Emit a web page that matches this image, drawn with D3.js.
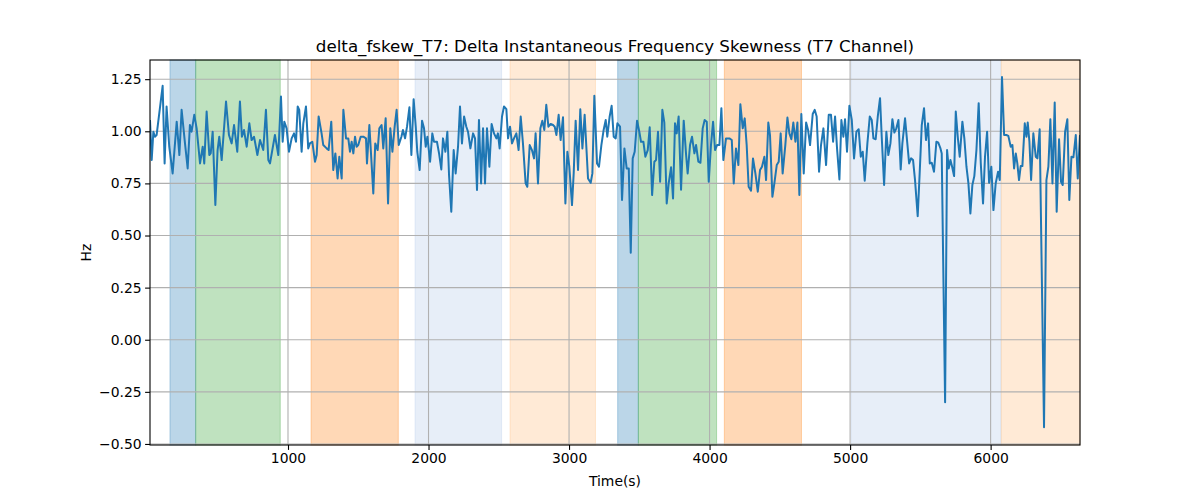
<!DOCTYPE html>
<html><head><meta charset="utf-8">
<script src="https://cdn.jsdelivr.net/npm/d3@7"></script>
<style>body{margin:0;background:#fff}svg{display:block}text{font-family:"DejaVu Sans",sans-serif}</style>
</head><body><svg id="c" width="1200" height="500"></svg>
<script>
const times = [18,30,42,53,65,108,122,136,155,179,208,227,243,267,286,302,314,333,350,374,393,404,421,440,450,464,483,499,511,528,559,580,599,616,639,658,672,687,706,725,741,758,765,782,801,824,843,860,872,907,931,950,962,974,990,1007,1026,1043,1057,1069,1080,1097,1109,1128,1144,1156,1173,1192,1204,1218,1239,1251,1275,1289,1308,1322,1337,1353,1365,1382,1394,1413,1429,1441,1453,1465,1477,1488,1500,1517,1536,1555,1562,1579,1607,1621,1638,1650,1666,1678,
1695,1712,1728,1743,1759,1773,1788,1807,1818,1833,1847,1864,1878,1894,1909,1920,1937,1954,1968,1980,1992,2011,2027,2039,2060,2075,2091,2103,2120,2134,2146,2162,2179,2193,2210,2224,2238,2253,2269,2281,2298,2317,2331,2345,2359,2374,2388,2402,2416,2433,2449,2466,2483,2494,2506,2523,2537,2554,2566,2580,2594,2608,2625,2641,2656,2672,2691,2703,2720,2736,2751,2762,2779,2796,2810,2824,2838,2853,2869,2886,2898,2910,2926,2940,2957,2974,2988,3002,3021,3033,3047,3064,3080,3095,3111,3135,3154,3166,3180,3199,3213,3230,3246,3261,3272,3289,3303,3318,3332,3344,
3363,3377,3394,3410,3425,3439,3453,3467,3484,3500,3512,3529,3543,3560,3574,3591,3607,3619,3633,3648,3664,3678,3695,3709,3726,3740,3754,3766,3780,3797,3816,3833,3844,3861,3875,3892,3904,3920,3935,3951,3965,3980,3994,4010,4025,4039,4053,4070,4084,4098,4117,4141,4158,4172,4188,4205,4219,4236,4250,4264,4278,4295,4309,4326,4343,4359,4373,4390,4402,4418,4430,4447,4461,4478,4492,4506,4520,4539,4554,4568,4582,4596,4611,4625,4639,4653,4670,4687,4701,4715,4734,4748,4762,4779,4793,4810,4829,4848,4864,4879,4893,4907,4924,4938,4952,4964,4978,4995,
5012,5028,5045,5061,5076,5090,5104,5123,5140,5154,5166,5182,5197,5213,5225,5242,5258,5272,5287,5301,5315,5329,5344,5360,5372,5391,5405,5420,5434,5448,5462,5481,5495,5510,5526,5540,5555,5567,5581,5597,5614,5628,5643,5652,5676,5690,5702,5714,5726,5740,5752,5766,5780,5799,5813,5828,5842,5856,5870,5884,5899,5915,5930,5946,5960,5975,5989,6005,6020,6036,6053,6065,6081,6096,6112,6126,6143,6155,6167,6179,6190,6202,6214,6226,6243,6255,6264,6276,6288,6304,6321,6333,6349,6380,6397,6411,6425,6440,6456,6470,6487,6501,6513,6530,6546,6560,6575,6589,6606,6620,6636];
const values = [1.054,0.862,0.998,0.974,0.982,1.218,0.846,1.119,0.926,0.798,1.046,0.886,1.103,0.942,0.822,1.030,0.998,1.079,1.014,0.846,0.926,0.846,1.095,0.886,0.894,0.998,0.646,0.910,0.974,0.862,1.143,0.982,0.942,1.030,0.902,1.143,0.974,1.006,0.926,1.038,0.958,0.974,0.950,0.886,0.958,0.910,1.103,0.862,0.846,0.982,0.886,1.167,0.950,1.046,1.014,0.902,0.966,0.990,0.950,1.119,1.103,0.902,1.038,1.119,0.918,0.942,0.950,0.854,0.886,1.071,0.990,0.934,0.918,0.910,1.046,0.814,0.894,0.774,0.878,0.774,1.103,0.966,0.966,0.902,0.950,0.894,0.974,0.926,0.934,0.974,0.974,0.966,0.846,1.030,0.702,0.942,0.910,1.014,1.030,0.918,
1.062,0.654,1.014,0.902,1.022,1.103,0.934,0.974,1.006,0.966,1.022,1.115,0.886,1.154,1.022,0.902,0.814,1.051,1.014,0.926,0.974,0.854,0.990,0.950,0.950,0.894,0.817,0.966,0.902,0.998,0.790,0.614,0.910,0.798,0.926,1.119,0.942,1.071,1.022,0.998,0.918,0.990,0.966,0.718,1.054,0.750,1.014,0.750,1.014,0.830,1.035,0.990,0.966,0.990,0.918,1.071,1.119,1.106,0.966,1.022,0.942,0.966,0.990,0.910,1.071,0.942,0.750,0.734,0.934,0.910,0.870,0.990,0.750,1.014,1.051,1.006,1.127,1.022,1.035,1.030,1.022,0.982,1.079,0.958,1.067,0.654,0.902,0.830,0.646,0.798,1.051,0.814,1.106,0.918,1.079,0.774,0.753,0.798,1.170,0.846,0.830,0.934,1.006,1.054,0.974,1.071,1.122,0.974,0.966,1.038,
1.022,0.670,0.918,0.822,0.822,0.417,0.870,0.902,1.051,0.998,0.950,0.950,0.878,0.910,1.019,0.694,0.854,0.862,0.998,0.758,1.103,1.042,0.654,0.750,0.827,0.678,1.038,0.990,1.071,0.720,1.051,0.886,0.798,0.934,0.974,0.894,0.934,0.854,0.849,1.014,1.054,1.046,0.758,0.934,1.046,0.910,0.934,0.934,1.111,0.862,0.966,0.966,0.958,0.750,0.918,0.838,1.130,1.014,1.062,0.934,0.734,0.715,0.870,0.798,0.710,0.814,0.830,0.878,0.766,1.042,0.982,0.686,0.750,0.838,0.854,0.990,0.798,0.934,1.066,0.990,0.962,1.042,0.950,1.042,0.694,1.083,0.798,1.042,1.006,0.934,1.083,1.103,1.071,0.806,0.934,1.014,0.838,1.079,1.079,0.950,1.071,0.918,0.769,1.054,0.974,1.058,0.902,1.122,
1.054,0.870,0.998,1.010,0.878,0.902,0.763,0.942,1.071,1.054,0.966,0.962,1.071,1.159,0.974,0.742,0.998,0.886,0.942,1.058,0.994,1.014,1.054,0.817,0.942,1.062,0.958,0.846,0.870,0.862,0.766,0.593,0.798,1.030,1.111,0.958,1.038,0.846,0.849,0.806,0.950,0.945,0.918,0.894,-0.300,0.910,0.822,0.862,0.830,0.785,1.095,0.974,0.878,1.046,0.966,0.830,0.750,0.606,0.742,0.785,0.910,1.135,0.846,0.654,0.878,0.998,0.753,0.830,0.622,0.750,0.806,0.766,1.260,0.982,0.982,0.978,0.926,0.934,0.822,0.894,0.846,0.766,0.833,0.833,1.038,0.974,1.042,0.950,0.766,0.990,0.878,0.870,1.010,-0.420,0.766,0.830,1.058,0.750,1.138,0.614,0.962,0.758,0.742,0.998,1.058,0.670,0.878,0.875,0.982,0.774,0.982];

const bandStarts = [160,343,1164,1904,2580,3346,3493,4105,5008,6076];
const bandEnds   = [343,945,1785,2520,3188,3493,4050,4654,6074,6636];
const bandKinds  = ["blue","green","orange","lightblue","lightorange","blue","green","orange","lightblue","lightorange"];
const kindColors = {blue:"#1f77b4",green:"#2ca02c",orange:"#ff7f0e",lightblue:"#aec7e8",lightorange:"#ffbb78"};
const xTicks = [1000,2000,3000,4000,5000,6000];
const yTicks = [-0.5,-0.25,0,0.25,0.5,0.75,1.0,1.25];
const title = "delta_fskew_T7: Delta Instantaneous Frequency Skewness (T7 Channel)";

const svg = d3.select("#c");
const L=150,R=1080,T=60,B=445;
const x = d3.scaleLinear().domain([18,6636]).range([L,R]);
const y = d3.scaleLinear().domain([-0.505,1.342]).range([B,T]);

const bands = bandStarts.map((s,i)=>({s,e:bandEnds[i],k:bandKinds[i]}));
svg.append("g").selectAll("rect").data(bands).join("rect")
  .attr("x",d=>x(d.s)).attr("width",d=>x(d.e)-x(d.s))
  .attr("y",T).attr("height",B-T)
  .attr("fill",d=>kindColors[d.k]).attr("fill-opacity",0.3)
  .attr("stroke",d=>kindColors[d.k]).attr("stroke-opacity",0.3).attr("stroke-width",1);

// grid
const g = svg.append("g");
g.selectAll(".gx").data(xTicks).join("line")
  .attr("x1",d=>x(d)).attr("x2",d=>x(d)).attr("y1",T).attr("y2",B)
  .attr("stroke","#b0b0b0").attr("stroke-width",1.1);
g.selectAll(".gy").data(yTicks).join("line")
  .attr("y1",d=>y(d)).attr("y2",d=>y(d)).attr("x1",L).attr("x2",R)
  .attr("stroke","#b0b0b0").attr("stroke-width",1.1);

const pts = times.map((t,i)=>[t,values[i]]);
svg.append("defs").append("clipPath").attr("id","cp").append("rect").attr("x",L).attr("y",T).attr("width",R-L).attr("height",B-T);
svg.append("path").datum(pts).attr("clip-path","url(#cp)")
  .attr("d",d3.line().x(d=>x(d[0])).y(d=>y(d[1])))
  .attr("fill","none").attr("stroke","#1f77b4").attr("stroke-width",2).attr("stroke-linejoin","round");

// axes
const fmtY = d=> (d<0?"\u2212":"")+Math.abs(d).toFixed(2);
const xa = svg.append("g").attr("transform",`translate(0,${B})`)
  .call(d3.axisBottom(x).tickValues(xTicks).tickSize(4.9).tickPadding(3.5).tickFormat(d3.format("d")));
const ya = svg.append("g").attr("transform",`translate(${L},0)`)
  .call(d3.axisLeft(y).tickValues(yTicks).tickSize(4.9).tickPadding(3.5).tickFormat(fmtY));
[xa,ya].forEach(a=>{a.select(".domain").remove();a.selectAll("text").attr("font-size",13.9).attr("fill","#000").style("font-family","DejaVu Sans");a.selectAll("line").attr("stroke","#000").attr("stroke-width",1.1);});

svg.append("rect").attr("x",L).attr("y",T).attr("width",R-L).attr("height",B-T)
  .attr("fill","none").attr("stroke","#000").attr("stroke-width",1.1);

svg.append("text").attr("x",(L+R)/2).attr("y",52).attr("text-anchor","middle").attr("font-size",16.7).text(title);
svg.append("text").attr("x",(L+R)/2).attr("y",486).attr("text-anchor","middle").attr("font-size",13.9).text("Time(s)");
svg.append("text").attr("transform",`translate(91,${(T+B)/2}) rotate(-90)`).attr("text-anchor","middle").attr("font-size",13.9).text("Hz");
</script></body></html>
